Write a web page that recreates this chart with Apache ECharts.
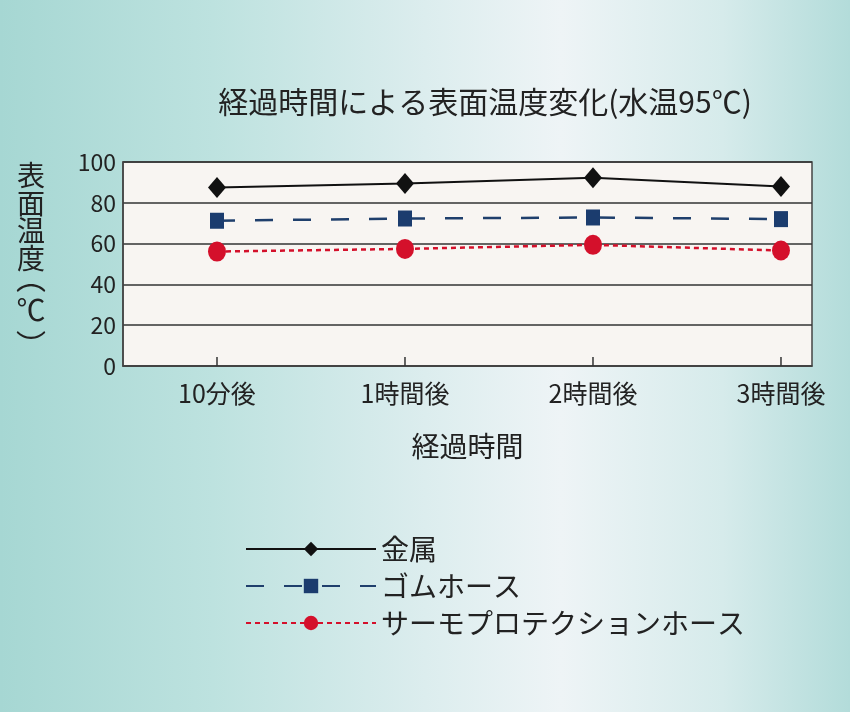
<!DOCTYPE html>
<html>
<head>
<meta charset="utf-8">
<script src="https://cdn.jsdelivr.net/npm/echarts@6/dist/echarts.min.js"></script>
<style>
html,body{margin:0;padding:0;}
#c{width:850px;height:712px;}
</style>
</head>
<body>
<div id="c"></div>
<script>
var categories = ['10分後', '1時間後', '2時間後', '3時間後'];
var seriesNames = ['金属', 'ゴムホース', 'サーモプロテクションホース'];
var metal = [87.5, 89.4, 92.3, 88.0];
var rubber = [71.2, 72.3, 72.8, 72.0];
var thermo = [56.1, 57.4, 59.4, 56.6];
var yTicks = [0, 20, 40, 60, 80, 100];

var JP = '"Noto Sans CJK JP", "Noto Sans", sans-serif';
function pairs(arr){ return arr.map(function(v,i){ return [i, v]; }); }

var chart = echarts.init(document.getElementById('c'), null, {renderer:'canvas'});
chart.setOption({
  backgroundColor: {
    type:'linear', x:0, y:0, x2:1, y2:0,
    colorStops:[
      {offset:0, color:'#a6d7d3'},
      {offset:0.25, color:'#bde2df'},
      {offset:0.5, color:'#dcedee'},
      {offset:0.66, color:'#eef4f6'},
      {offset:0.85, color:'#d6ebeb'},
      {offset:1, color:'#b3dcda'}
    ]
  },
  animation:false,
  textStyle:{fontFamily:JP},
  title:{
    text:'経過時間による表面温度変化(水温95℃)',
    left:480, top:82, textAlign:'center',
    textStyle:{fontSize:30, fontWeight:'normal', color:'#222', fontFamily:JP}
  },
  graphic:[
    {type:'text', x:31, y:162,
      style:{text:'表\n面\n温\n度', fontSize:28, lineHeight:27.5, fontFamily:JP, fill:'#222', align:'center', verticalAlign:'top'}},
    {type:'text', x:31, y:278,
      style:{text:'︵', fontSize:30, fontFamily:JP, fill:'#222', align:'center', verticalAlign:'middle'}},
    {type:'text', x:31, y:310,
      style:{text:'℃', fontSize:29, fontFamily:JP, fill:'#222', align:'center', verticalAlign:'middle'}},
    {type:'text', x:31, y:345,
      style:{text:'︶', fontSize:30, fontFamily:JP, fill:'#222', align:'center', verticalAlign:'middle'}}
  ],
  legend:{
    orient:'vertical', left:245, top:535, padding:0,
    itemWidth:130, itemHeight:18, itemGap:9,
    data: seriesNames,
    textStyle:{fontSize:28, color:'#222', fontFamily:JP}
  },
  grid:{
    left:123, right:38, top:162, bottom:346,
    show:true, backgroundColor:'#f8f5f2', borderColor:'#444', borderWidth:1.5
  },
  xAxis:{
    type:'value', min:-0.5, max:3.165, interval:0.5,
    splitLine:{show:false}, axisTick:{show:false},
    axisLine:{show:true, onZero:false, lineStyle:{color:'#444', width:1.5}},
    axisLabel:{
      fontSize:25, color:'#222', margin:15, fontFamily:JP,
      formatter:function(v){ var r=Math.round(v); return Math.abs(v-r)<1e-6 && categories[r] ? categories[r] : ''; }
    },
    name:'経過時間', nameLocation:'middle', nameGap:66,
    nameTextStyle:{fontSize:28, color:'#222', fontFamily:JP}
  },
  yAxis:{
    type:'value', min:0, max:100, interval:20,
    axisLine:{show:true, onZero:false, lineStyle:{color:'#444', width:1.5}},
    axisTick:{show:false},
    splitLine:{show:true, lineStyle:{color:'#333', width:1.5}},
    axisLabel:{fontSize:23, color:'#222', margin:7, fontFamily:JP,
      formatter:function(v){ return yTicks.indexOf(v)>=0 ? String(v) : ''; }}
  },
  series:[
    {
      name:'金属', type:'line', data:pairs(metal),
      symbol:'diamond', symbolSize:[18,21],
      itemStyle:{color:'#111'},
      lineStyle:{color:'#111', width:2, type:'solid'}
    },
    {
      name:'ゴムホース', type:'line', data:pairs(rubber),
      symbol:'rect', symbolSize:[14,16],
      itemStyle:{color:'#1b3c6e'},
      lineStyle:{color:'#1f3f6c', width:2.5, type:[18,20]}
    },
    {
      name:'サーモプロテクションホース', type:'line', data:pairs(thermo),
      symbol:'circle', symbolSize:[18,20],
      itemStyle:{color:'#d4102b'},
      lineStyle:{color:'#d4102b', width:2.5, type:[5,4]}
    },
    {
      name:'ticks', type:'custom', silent:true, z:1,
      data: categories.map(function(c,i){ return [i, 0]; }),
      renderItem:function(params, api){
        var p = api.coord([api.value(0), 0]);
        return {type:'line', shape:{x1:p[0], y1:p[1], x2:p[0], y2:p[1]-9},
          style:{stroke:'#333', lineWidth:1.5}};
      }
    }
  ]
});
</script>
</body>
</html>
